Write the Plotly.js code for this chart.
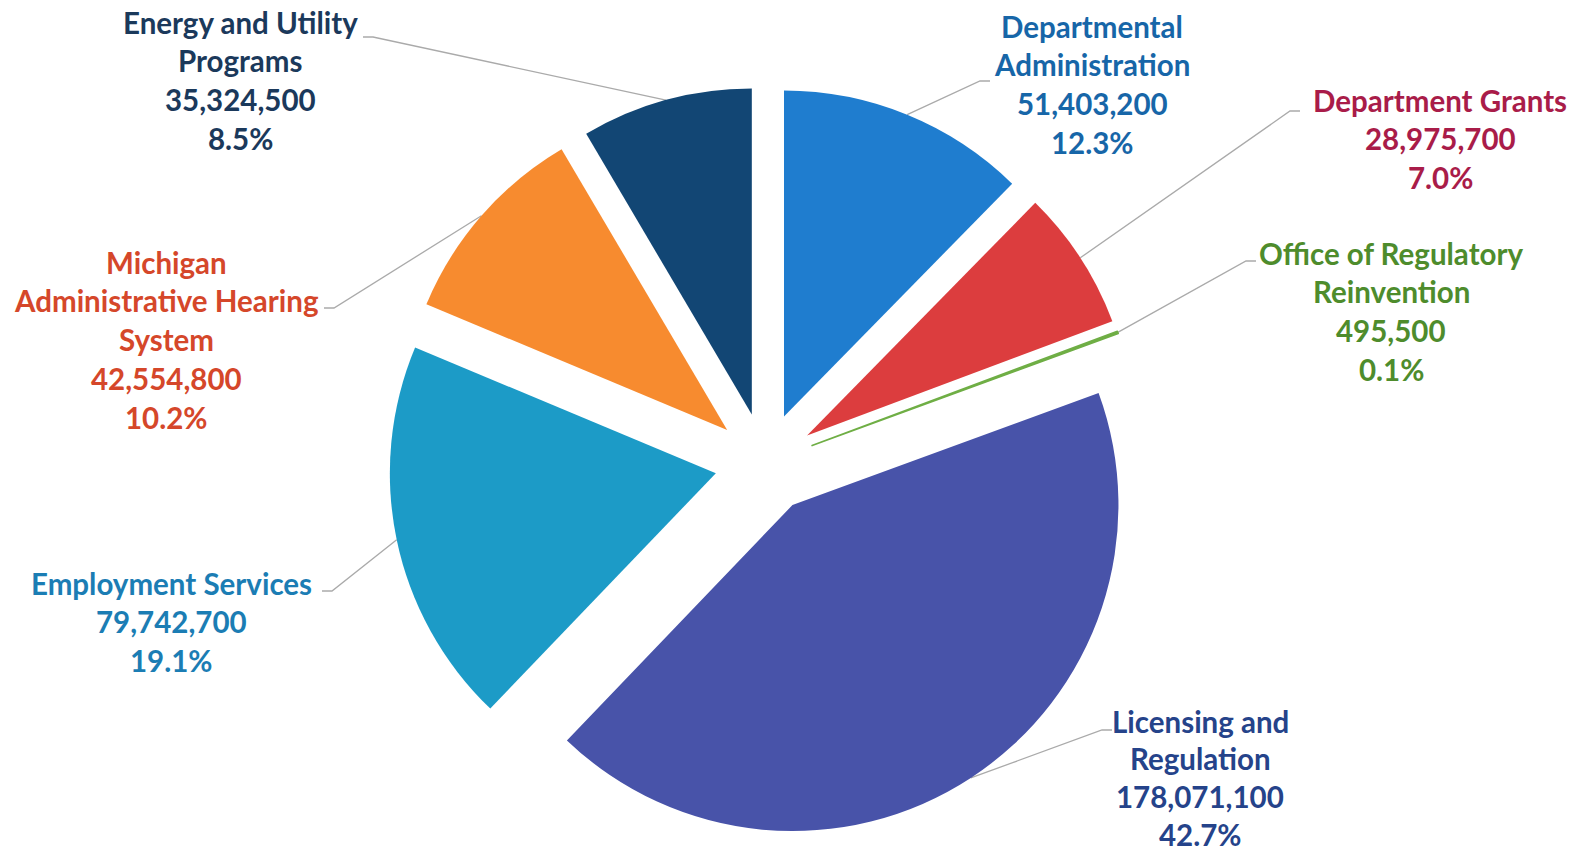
<!DOCTYPE html>
<html>
<head>
<meta charset="utf-8">
<script src="https://cdn.plot.ly/plotly-3.0.1.min.js"></script>
<style>
html,body{margin:0;padding:0;background:#fff;}
#chart{width:1581px;height:853px;}
</style>
</head>
<body>
<div id="chart"></div>
<script>
// ---- data ----
var categories = [
  "Departmental Administration",
  "Department Grants",
  "Office of Regulatory Reinvention",
  "Licensing and Regulation",
  "Employment Services",
  "Michigan Administrative Hearing System",
  "Energy and Utility Programs"
];
var labelLines = [
  ["Departmental", "Administration"],
  ["Department Grants"],
  ["Office of Regulatory", "Reinvention"],
  ["Licensing and", "Regulation"],
  ["Employment Services"],
  ["Michigan", "Administrative Hearing", "System"],
  ["Energy and Utility", "Programs"]
];
var amounts = [51403200, 28975700, 495500, 178071100, 79742700, 42554800, 35324500];
var percentLabels = ["12.3%", "7.0%", "0.1%", "42.7%", "19.1%", "10.2%", "8.5%"];

// ---- styles ----
var sliceColors = ["#1f7dcf", "#dc3d3e", "#6fae45", "#4853a9", "#1c9bc7", "#f78b2f", "#124674"];
var textColors  = ["#1766a8", "#a91c49", "#4e8c2c", "#25438a", "#1b7db4", "#d5472a", "#1b395b"];
var W = 1581, H = 853;
var CX = 765, CY = 463, R = 326, PULL = 0.154;
var box = 2 * R * (1 + PULL);
// label block: centre x, first-line y, leader start [x,y], leader elbow dx, line height
var labelPos = [
  {x: 1092, y: 26,  start: [990, 81],   elbow: -10, lh: 38.8},
  {x: 1440, y: 100, start: [1300, 111], elbow: -10, lh: 38.8},
  {x: 1391, y: 253, start: [1256, 261], elbow: -10, lh: 38.8},
  {x: 1200, y: 721, start: [1112, 730], elbow: -10, lh: 37.8},
  {x: 171,  y: 583, start: [322, 591],  elbow: 10,  lh: 38.8},
  {x: 166,  y: 262, start: [324, 308],  elbow: 10,  lh: 38.8},
  {x: 240,  y: 22,  start: [363, 37],   elbow: 10,  lh: 38.8}
];
var FONT = "Lato, 'Open Sans', sans-serif";

function fmt(n){ return n.toString().replace(/\B(?=(\d{3})+(?!\d))/g, ","); }

var total = amounts.reduce(function(a,b){return a+b;}, 0);
var traces = [];
traces.push({
  type: "pie",
  labels: categories,
  values: amounts,
  sort: false,
  direction: "clockwise",
  rotation: 0,
  pull: amounts.map(function(){return PULL;}),
  marker: {
    colors: sliceColors,
    line: {color: sliceColors, width: amounts.map(function(v){ return v/total < 0.005 ? 1.6 : 0; })}
  },
  textinfo: "none",
  hoverinfo: "label+value+percent",
  showlegend: false,
  domain: {
    x: [(CX - box/2)/W, (CX + box/2)/W],
    y: [1 - (CY + box/2)/H, 1 - (CY - box/2)/H]
  }
});

// leader lines from label to mid-angle point of each slice's outer arc
var annotations = [];
var cum = 0;
for (var i = 0; i < amounts.length; i++) {
  var frac = amounts[i] / total;
  var mid = (cum + frac/2) * 2 * Math.PI;
  cum += frac;
  var dx = Math.sin(mid), dy = -Math.cos(mid);
  var ax = CX + dx * R * PULL, ay = CY + dy * R * PULL;
  var ex = ax + dx * R, ey = ay + dy * R;
  var p = labelPos[i];
  traces.push({
    type: "scatter", mode: "lines",
    x: [p.start[0], p.start[0] + p.elbow, ex],
    y: [p.start[1], p.start[1], ey],
    line: {color: "#aaaaaa", width: 1.3},
    hoverinfo: "skip", showlegend: false
  });
  var lines = labelLines[i].concat([fmt(amounts[i]), percentLabels[i]]);
  for (var k = 0; k < lines.length; k++) {
    annotations.push({
      xref: "x", yref: "y",
      x: p.x, y: p.y + k * p.lh,
      xanchor: "center", yanchor: "middle",
      text: lines[k], showarrow: false,
      font: {family: FONT, size: 29.5, color: textColors[i], weight: 700}
    });
  }
}

var layout = {
  width: W, height: H,
  margin: {l: 0, r: 0, t: 0, b: 0, pad: 0},
  paper_bgcolor: "#ffffff",
  plot_bgcolor: "#ffffff",
  xaxis: {range: [0, W], visible: false, fixedrange: true},
  yaxis: {range: [H, 0], visible: false, fixedrange: true},
  annotations: annotations,
  showlegend: false
};

Plotly.newPlot("chart", traces, layout, {displayModeBar: false, staticPlot: true});
</script>
</body>
</html>
